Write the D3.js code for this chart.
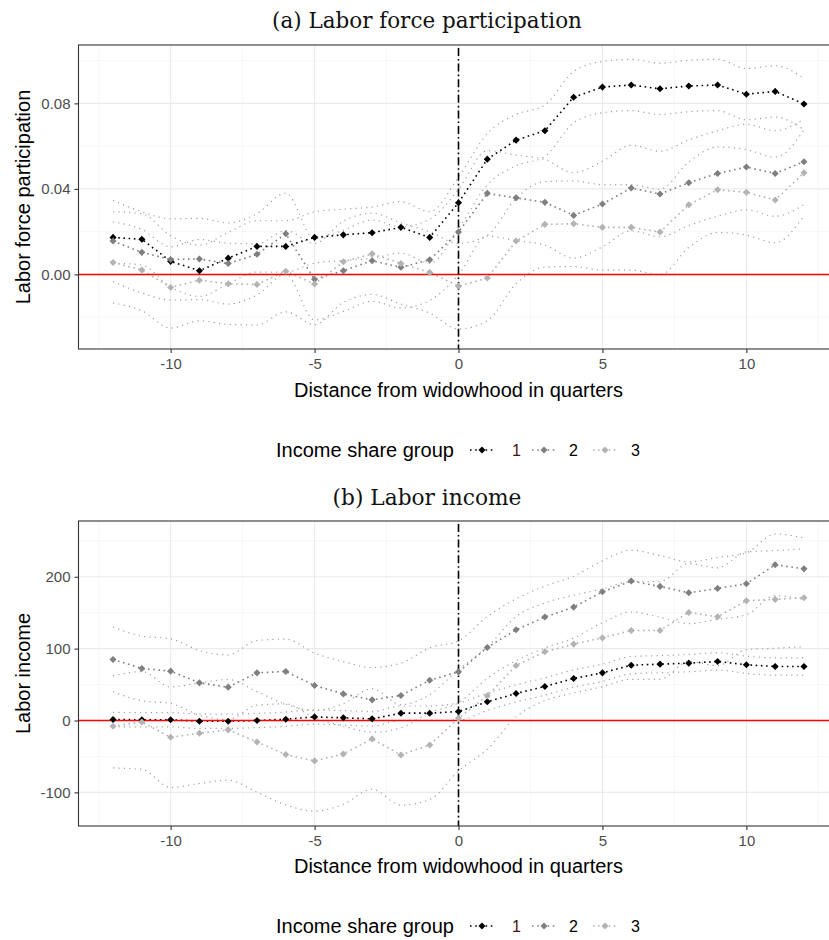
<!DOCTYPE html>
<html><head><meta charset="utf-8">
<script src="https://cdn.jsdelivr.net/npm/d3@7"></script>
<style>body{margin:0;background:#fff;} svg{display:block;}</style>
</head><body>
<svg id="c" width="829" height="940"></svg>
<script>
// ---------- data ----------
const quarters = [-12,-11,-10,-9,-8,-7,-6,-5,-4,-3,-2,-1,0,1,2,3,4,5,6,7,8,9,10,11,12];
const groups = ["1","2","3"];
const groupColors = ["#000000","#7f7f7f","#b3b3b3"];
const xTicks = [-10,-5,0,5,10];
const xMinorTicks = [-12.5,-7.5,-2.5,2.5,7.5,12.5];
const lfpTicks = [0, 0.04, 0.08];
const lfpMinorTicks = [-0.02, 0.02, 0.06, 0.10];
const incTicks = [-100, 0, 100, 200];
const incMinorTicks = [-50, 50, 150, 250];

// (a) labor force participation
const lfpEst1 = [0.0173,0.0164,0.0061,0.0017,0.0076,0.0131,0.0131,0.0173,0.0185,0.0195,0.0220,0.0173,0.0335,0.0539,0.0628,0.0672,0.0829,0.0876,0.0886,0.0868,0.0881,0.0886,0.0843,0.0856,0.0797];
const lfpLo1  = [0.0053,0.0044,-0.0059,-0.0103,-0.0044,0.0011,0.0011,0.0053,0.0065,0.0075,0.0100,0.0053,0.0215,0.0419,0.0508,0.0552,0.0709,0.0756,0.0766,0.0748,0.0761,0.0766,0.0723,0.0736,0.0677];
const lfpHi1  = [0.0293,0.0284,0.0181,0.0137,0.0196,0.0251,0.0251,0.0293,0.0305,0.0315,0.0340,0.0293,0.0455,0.0659,0.0748,0.0792,0.0949,0.0996,0.1006,0.0988,0.1001,0.1006,0.0963,0.0976,0.0917];
const lfpEst2 = [0.0156,0.0103,0.0070,0.0072,0.0051,0.0094,0.0190,-0.0023,0.0017,0.0064,0.0033,0.0068,0.0198,0.0379,0.0358,0.0337,0.0276,0.0329,0.0404,0.0376,0.0429,0.0472,0.0502,0.0472,0.0527];
const lfpLo2  = [-0.0034,-0.0087,-0.0120,-0.0118,-0.0139,-0.0096,0.0000,-0.0213,-0.0173,-0.0126,-0.0157,-0.0122,-0.0002,0.0179,0.0158,0.0137,0.0076,0.0129,0.0204,0.0176,0.0229,0.0272,0.0302,0.0272,0.0327];
const lfpHi2  = [0.0346,0.0293,0.0260,0.0262,0.0241,0.0284,0.0380,0.0167,0.0207,0.0254,0.0223,0.0258,0.0398,0.0579,0.0558,0.0537,0.0476,0.0529,0.0604,0.0576,0.0629,0.0672,0.0702,0.0672,0.0727];
const lfpEst3 = [0.0056,0.0020,-0.0061,-0.0027,-0.0044,-0.0047,0.0015,-0.0045,0.0059,0.0096,0.0051,0.0009,-0.0055,-0.0017,0.0156,0.0234,0.0237,0.0220,0.0220,0.0198,0.0326,0.0396,0.0384,0.0348,0.0475];
const lfpLo3  = [-0.0134,-0.0170,-0.0251,-0.0217,-0.0234,-0.0237,-0.0175,-0.0235,-0.0131,-0.0094,-0.0139,-0.0181,-0.0255,-0.0217,-0.0044,0.0034,0.0037,0.0020,0.0020,-0.0002,0.0126,0.0196,0.0184,0.0148,0.0275];
const lfpHi3  = [0.0246,0.0210,0.0129,0.0163,0.0146,0.0143,0.0205,0.0145,0.0249,0.0286,0.0241,0.0199,0.0145,0.0183,0.0356,0.0434,0.0437,0.0420,0.0420,0.0398,0.0526,0.0596,0.0584,0.0548,0.0675];

// (b) labor income
const incEst1 = [1.4,1.0,1.0,-1.0,-1.0,0.0,1.8,5.0,3.7,2.3,10.2,10.2,12.5,26.0,37.6,47.3,58.5,66.3,77.0,78.4,79.8,82.2,77.5,75.2,75.2];
const incLo1  = [-8.6,-9.0,-9.0,-11.0,-11.0,-10.0,-8.2,-5.0,-6.3,-7.7,0.2,0.2,0.5,14.0,25.6,35.3,46.5,54.3,65.0,66.4,67.8,70.2,65.5,63.2,63.2];
const incHi1  = [11.4,11.0,11.0,9.0,9.0,10.0,11.8,15.0,13.7,12.3,20.2,20.2,24.5,38.0,49.6,59.3,70.5,78.3,89.0,90.4,91.8,94.2,89.5,87.2,87.2];
const incEst2 = [85.0,72.4,68.7,52.4,46.4,66.3,68.2,48.7,37.0,28.7,34.8,56.1,67.7,101.7,126.2,143.9,157.8,179.1,194.0,186.6,177.7,183.8,190.3,216.7,211.0];
const incLo2  = [40.0,27.4,23.7,7.4,1.4,21.3,23.2,3.7,-8.0,-16.3,-10.2,11.1,24.7,58.7,83.2,100.9,114.8,136.1,151.0,143.6,134.7,140.8,147.3,173.7,168.0];
const incHi2  = [130.0,117.4,113.7,97.4,91.4,111.3,113.2,93.7,82.0,73.7,79.8,101.1,110.7,144.7,169.2,186.9,200.8,222.1,237.0,229.6,220.7,226.8,233.3,259.7,254.0];
const incEst3 = [-7.9,-2.0,-23.3,-17.7,-13.0,-29.8,-47.4,-56.2,-46.5,-25.6,-47.9,-34.0,3.0,34.3,76.6,95.6,106.3,115.0,125.3,125.3,150.4,144.3,166.6,168.5,170.8];
const incLo3  = [-66,-68,-93.3,-87.7,-83.0,-99.8,-117.4,-126.2,-116.5,-95.6,-117.9,-110,-70,-40,5,27.6,38.3,47.0,57.3,57.3,82.4,76.3,98.6,100.5,102.8];
const incHi3  = [62.1,68.0,46.7,52.3,57.0,40.2,22.6,13.8,23.5,44.4,22.1,36.0,71.0,102.3,144.6,163.6,174.3,183.0,193.3,193.3,218.4,212.3,234.6,236.5,238.8];

// ---------- drawing ----------
const svg = d3.select("#c");
const SANS = "'Liberation Sans', Arial, sans-serif";
const SERIF = "'DejaVu Serif', serif";

function drawPanel(p) {
  const x = d3.scaleLinear().domain([-13.2, 13.2]).range([p.left, p.left + 760]);
  const y = d3.scaleLinear().domain(p.yDomain).range([p.bottom, p.top]);
  const g = svg.append("g");

  // title
  const t = g.append("text").attr("x", p.titleX).attr("y", p.titleY)
    .attr("text-anchor", "middle").attr("font-family", SERIF).attr("font-size", 20)
    .attr("fill", "#111").text(p.title);
  const w = t.node().getComputedTextLength();
  t.attr("font-size", 20 * p.titleW / w);

  // grid
  const grid = g.append("g");
  xMinorTicks.forEach(v => grid.append("line").attr("x1", x(v)).attr("x2", x(v)).attr("y1", p.top).attr("y2", p.bottom)
    .attr("stroke", "#f2f2f2").attr("stroke-width", 0.6));
  p.yMinor.forEach(v => grid.append("line").attr("x1", p.left).attr("x2", p.left + 760).attr("y1", y(v)).attr("y2", y(v))
    .attr("stroke", "#f2f2f2").attr("stroke-width", 0.6));
  xTicks.forEach(v => grid.append("line").attr("x1", x(v)).attr("x2", x(v)).attr("y1", p.top).attr("y2", p.bottom)
    .attr("stroke", "#ebebeb").attr("stroke-width", 1.1));
  p.yTicks.forEach(v => grid.append("line").attr("x1", p.left).attr("x2", p.left + 760).attr("y1", y(v)).attr("y2", y(v))
    .attr("stroke", "#ebebeb").attr("stroke-width", 1.1));

  // confidence bands (dotted)
  const ciLine = d3.line().x((d, i) => x(quarters[i])).y(d => y(d)).curve(d3.curveMonotoneX);
  p.ci.forEach(arr => g.append("path").attr("d", ciLine(arr)).attr("fill", "none")
    .attr("stroke", "#a0a0a0").attr("stroke-width", 1.2).attr("stroke-dasharray", "1.2,4.2"));

  // estimate lines
  const estLine = d3.line().x((d, i) => x(quarters[i])).y(d => y(d));
  p.est.forEach((arr, k) => g.append("path").attr("d", estLine(arr)).attr("fill", "none")
    .attr("stroke", groupColors[k]).attr("stroke-width", 1.6).attr("stroke-dasharray", "1.6,3.6"));

  // zero line and event line
  g.append("line").attr("x1", p.left).attr("x2", p.left + 760).attr("y1", y(0)).attr("y2", y(0))
    .attr("stroke", "#ff0000").attr("stroke-width", 1.5);
  g.append("line").attr("x1", x(0)).attr("x2", x(0)).attr("y1", p.top + 3).attr("y2", p.bottom)
    .attr("stroke", "#000").attr("stroke-width", 1.6).attr("stroke-dasharray", "8,3,1.6,3");

  // points
  const sym = d3.symbol().type(d3.symbolSquare).size(25);
  p.est.forEach((arr, k) => {
    g.append("g").selectAll("path").data(arr).join("path")
      .attr("d", sym)
      .attr("transform", (d, i) => `translate(${x(quarters[i])},${y(d)}) rotate(45)`)
      .attr("fill", groupColors[k]);
  });

  // border
  g.append("rect").attr("x", p.left).attr("y", p.top).attr("width", 760).attr("height", p.bottom - p.top)
    .attr("fill", "none").attr("stroke", "#333").attr("stroke-width", 1.1);

  // axes
  const ax = g.append("g").attr("transform", `translate(0,${p.bottom})`)
    .call(d3.axisBottom(x).tickValues(xTicks).tickFormat(d => String(d)).tickSize(4).tickPadding(5));
  const ay = g.append("g").attr("transform", `translate(${p.left},0)`)
    .call(d3.axisLeft(y).tickValues(p.yTicks).tickFormat(p.fmt).tickSize(4).tickPadding(4));
  [ax, ay].forEach(a => {
    a.select(".domain").remove();
    a.selectAll(".tick line").attr("stroke", "#333").attr("stroke-width", 1.1);
    a.selectAll(".tick text").attr("fill", "#4d4d4d").attr("font-size", 15).attr("font-family", SANS);
  });

  // axis titles
  g.append("text").attr("x", (p.left + p.left + 760) / 2).attr("y", p.xLabelY).attr("text-anchor", "middle")
    .attr("font-family", SANS).attr("font-size", 20).attr("fill", "#000").text("Distance from widowhood in quarters");
  g.append("text").attr("transform", `translate(30,${(p.top + p.bottom) / 2}) rotate(-90)`).attr("text-anchor", "middle")
    .attr("font-family", SANS).attr("font-size", 20).attr("fill", "#000").text(p.yLabel);

  // legend
  const lg = g.append("g");
  lg.append("text").attr("x", 276).attr("y", p.legendY + 7).attr("font-family", SANS).attr("font-size", 20)
    .attr("fill", "#000").text("Income share group");
  const keyX = [482, 544, 605];
  const labX = [512, 569, 631];
  const labColors = ["#4a1010", "#000", "#000"];
  groups.forEach((gr, k) => {
    lg.append("line").attr("x1", keyX[k] - 12).attr("x2", keyX[k] + 12).attr("y1", p.legendY).attr("y2", p.legendY)
      .attr("stroke", groupColors[k]).attr("stroke-width", 1.6).attr("stroke-dasharray", "1.6,3.6");
    lg.append("path").attr("d", sym).attr("transform", `translate(${keyX[k]},${p.legendY}) rotate(45)`).attr("fill", groupColors[k]);
    lg.append("text").attr("x", labX[k]).attr("y", p.legendY + 6).attr("font-family", SANS).attr("font-size", 16)
      .attr("fill", labColors[k]).text(gr);
  });
}

drawPanel({
  title: "(a) Labor force participation", titleX: 427, titleY: 28, titleW: 310,
  left: 78.5, top: 45, bottom: 349,
  yDomain: [-0.0349, 0.1073], yTicks: lfpTicks, yMinor: lfpMinorTicks, fmt: d3.format(".2f"),
  yLabel: "Labor force participation", xLabelY: 397, legendY: 450,
  est: [lfpEst1, lfpEst2, lfpEst3],
  ci: [lfpLo1, lfpHi1, lfpLo2, lfpHi2, lfpLo3, lfpHi3]
});
drawPanel({
  title: "(b) Labor income", titleX: 427, titleY: 505, titleW: 189,
  left: 78.5, top: 521, bottom: 826,
  yDomain: [-146.8, 277.6], yTicks: incTicks, yMinor: incMinorTicks, fmt: d => String(d),
  yLabel: "Labor income", xLabelY: 873, legendY: 926,
  est: [incEst1, incEst2, incEst3],
  ci: [incLo1, incHi1, incLo2, incHi2, incLo3, incHi3]
});
</script>
</body></html>
